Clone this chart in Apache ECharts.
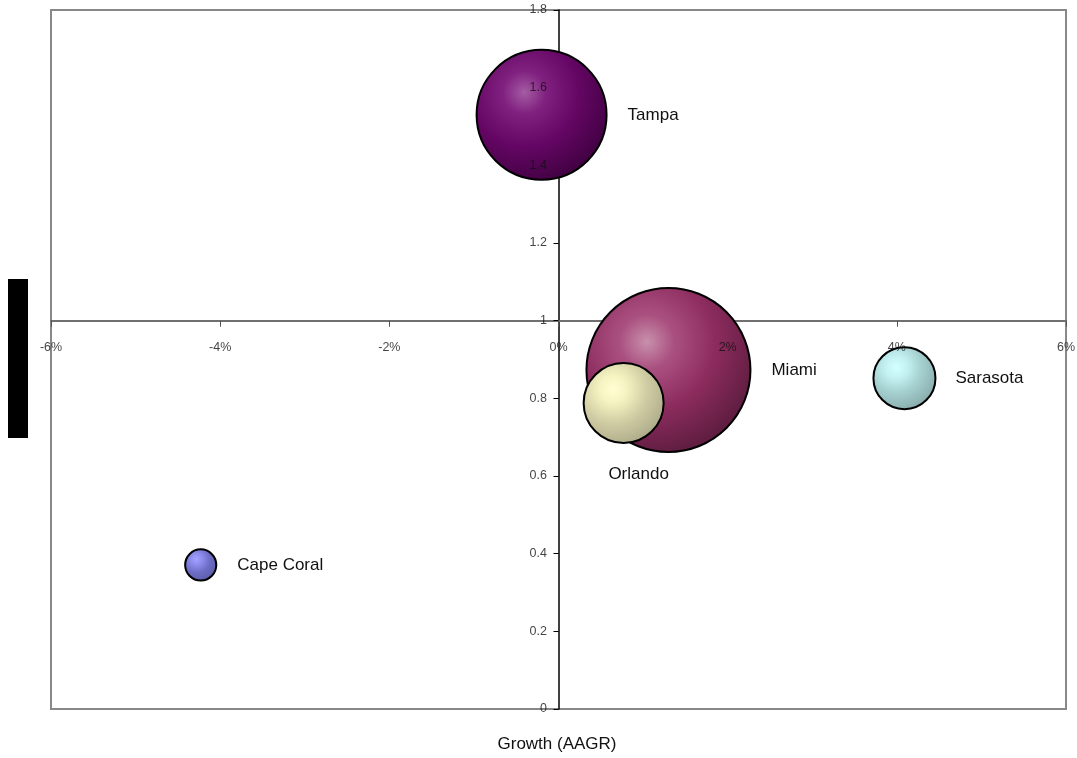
<!DOCTYPE html>
<html>
<head>
<meta charset="utf-8">
<script src="https://cdn.jsdelivr.net/npm/echarts@6/dist/echarts.min.js"></script>
<style>html,body{margin:0;padding:0;background:#fff}#c{width:1077px;height:758px}</style>
</head>
<body>
<div id="c"></div>
<script>
var cities = ['Tampa', 'Miami', 'Orlando', 'Sarasota', 'Cape Coral'];
var growth = [-0.2, 1.30, 0.77, 4.09, -4.23];        // AAGR, %
var yValues = [1.53, 0.873, 0.788, 0.852, 0.371];
var bubbleSize = [62.8, 100, 23.8, 14.3, 3.6];
var xTicks = [-6, -4, -2, 0, 2, 4, 6];
var yTicks = [0, 0.2, 0.4, 0.6, 0.8, 1, 1.2, 1.4, 1.6, 1.8];
var xCross = 1;   // horizontal axis crosses the vertical one at this value
var yCross = 0;   // vertical axis crosses the horizontal one at this value

var palettes = {
  'Tampa':      ['#a45ca4', '#80207f', '#640664', '#3c003c'],
  'Miami':      ['#c890ac', '#aa5080', '#8c2c5e', '#561a3a'],
  'Orlando':    ['#ffffd2', '#f6f3c2', '#d0cda4', '#a8a586'],
  'Sarasota':   ['#d2ffff', '#c4f2f2', '#a4cece', '#84a6a6'],
  'Cape Coral': ['#a2a2ff', '#8e8ef0', '#6c6cc4', '#5a5aa6']
};
var labelPos = {
  'Tampa': {position: 'right', distance: 20},
  'Miami': {position: 'right', distance: 20},
  'Orlando': {position: 'bottom', distance: 22, offset: [15, 0]},
  'Sarasota': {position: 'right', distance: 19},
  'Cape Coral': {position: 'right', distance: 20}
};

var maxDiameter = 164;
var data = cities.map(function (name, i) {
  var p = palettes[name];
  var lp = labelPos[name];
  return {
    name: name,
    value: [growth[i], yValues[i], bubbleSize[i]],
    itemStyle: {
      color: {
        type: 'radial', x: 0.37, y: 0.33, r: 0.75,
        colorStops: [
          {offset: 0, color: p[0]},
          {offset: 0.22, color: p[1]},
          {offset: 0.55, color: p[2]},
          {offset: 1, color: p[3]}
        ]
      }
    },
    label: Object.assign({show: true}, lp)
  };
});

var tickFont = {fontFamily: 'Liberation Sans, Arial, sans-serif', fontSize: 12.5, color: '#111'};

var chart = echarts.init(document.getElementById('c'));
chart.setOption({
  animation: false,
  backgroundColor: '#fff',
  grid: {left: 51, right: 11, top: 10, bottom: 49, show: true, borderColor: '#888', borderWidth: 2, backgroundColor: '#fff', containLabel: false},
  xAxis: {
    type: 'value', min: -6, max: 6, interval: 2, position: 'bottom', z: 0,
    axisLine: {show: true, onZero: true, onZeroAxisIndex: 1, lineStyle: {color: '#707070', width: 2}},
    axisTick: {show: true, length: 6, lineStyle: {color: '#555', width: 1}},
    axisLabel: {show: false},
    splitLine: {show: false}
  },
  yAxis: [
    {
      type: 'value', min: 0, max: 1.8, interval: 0.2, position: 'left', z: 0,
      axisLine: {show: true, onZero: true, onZeroAxisIndex: 0, lineStyle: {color: '#000', width: 1.5}},
      axisTick: {show: true, length: 5, lineStyle: {color: '#000', width: 1}},
      axisLabel: {show: false},
      splitLine: {show: false}
    },
    {
      type: 'value', min: -xCross, max: 1.8 - xCross, position: 'left', show: false,
      axisLine: {onZero: false}
    }
  ],
  graphic: [
    {type: 'rect', shape: {x: 8, y: 279, width: 20, height: 159}, style: {fill: '#000'}},
    {type: 'text', x: 557, y: 744, style: {text: 'Growth (AAGR)', fill: '#111', font: '17px "Liberation Sans", Arial, sans-serif', textAlign: 'center', textVerticalAlign: 'middle'}}
  ],
  series: [
    {
      type: 'scatter',
      xAxisIndex: 0, yAxisIndex: 0, z: 5,
      symbolSize: function (v) { return maxDiameter * Math.sqrt(v[2] / 100); },
      itemStyle: {borderColor: '#000', borderWidth: 2, opacity: 1},
      label: {show: true, formatter: '{b}', color: '#111', fontSize: 17, fontFamily: 'Liberation Sans, Arial, sans-serif'},
      emphasis: {disabled: true},
      silent: true,
      data: data
    },
    {
      // horizontal axis tick labels, drawn above the bubbles
      type: 'scatter', xAxisIndex: 0, yAxisIndex: 0, z: 20,
      symbolSize: 1, itemStyle: {color: 'rgba(0,0,0,0)'},
      silent: true, emphasis: {disabled: true},
      label: Object.assign({show: true, position: 'bottom', distance: 20, formatter: function (p) { return p.value[0] + '%'; }}, tickFont),
      data: xTicks.map(function (v) { return [v, xCross]; })
    },
    {
      // vertical axis tick labels, drawn above the bubbles
      type: 'scatter', xAxisIndex: 0, yAxisIndex: 0, z: 20,
      symbolSize: 1, itemStyle: {color: 'rgba(0,0,0,0)'},
      silent: true, emphasis: {disabled: true},
      label: Object.assign({show: true, position: 'left', distance: 11, formatter: function (p) { return String(Math.round(p.value[1] * 10) / 10); }}, tickFont),
      data: yTicks.map(function (v) { return [yCross, v]; })
    }
  ]
});
</script>
</body>
</html>
